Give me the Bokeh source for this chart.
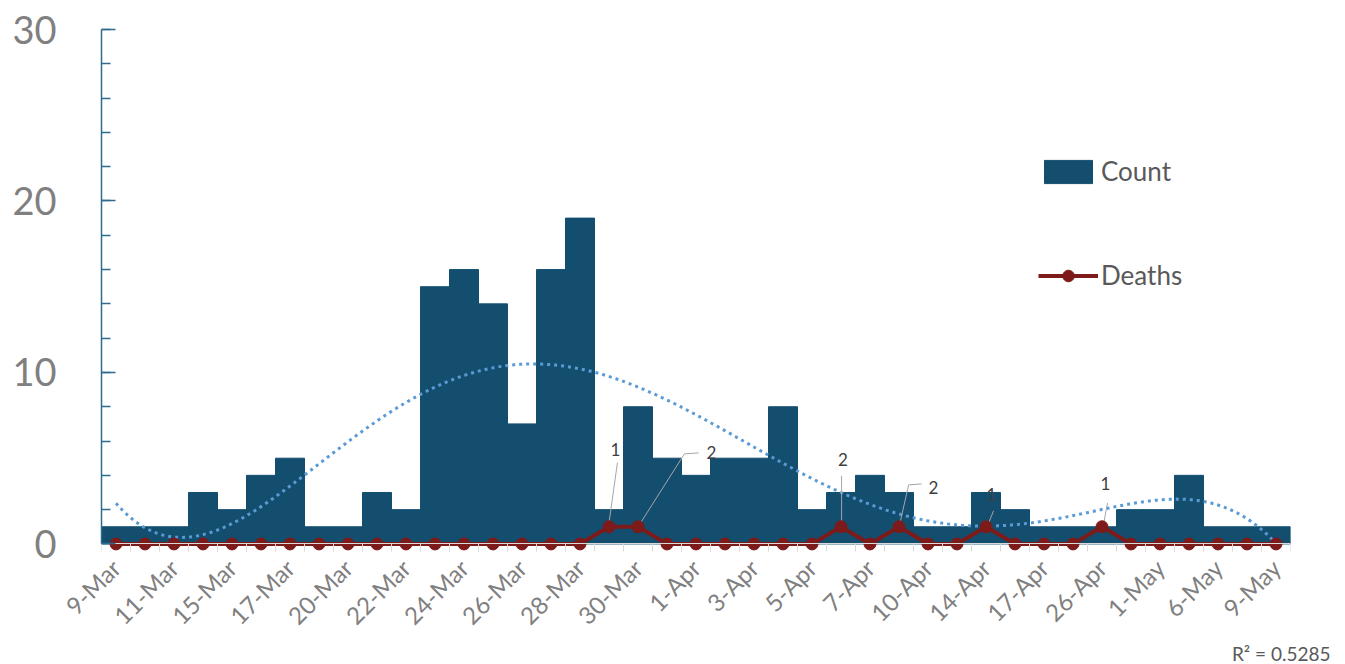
import numpy as np
from bokeh.plotting import figure
from bokeh.models import Range1d, FixedTicker, Legend, LegendItem, LinearAxis, Title
from bokeh.core.properties import value
from bokeh.embed import file_html
from bokeh.resources import INLINE

# ---- data ----
dates = ["9-Mar", "10-Mar", "11-Mar", "13-Mar", "15-Mar", "16-Mar", "17-Mar", "18-Mar",
         "20-Mar", "21-Mar", "22-Mar", "23-Mar", "24-Mar", "25-Mar", "26-Mar", "27-Mar",
         "28-Mar", "29-Mar", "30-Mar", "31-Mar", "1-Apr", "2-Apr", "3-Apr", "4-Apr",
         "5-Apr", "6-Apr", "7-Apr", "8-Apr", "10-Apr", "12-Apr", "14-Apr", "15-Apr",
         "17-Apr", "21-Apr", "26-Apr", "28-Apr", "1-May", "4-May", "6-May", "7-May", "9-May"]
counts = [1, 1, 1, 3, 2, 4, 5, 1, 1, 3, 2, 15, 16, 14, 7, 16, 19,
          2, 8, 5, 4, 5, 5, 8, 2, 3, 4, 3, 1, 1, 3, 2, 1, 1, 1, 2, 2, 4, 1, 1, 1]
deaths = [0] * 17 + [1, 1, 0, 0, 0, 0, 0, 0, 1, 0, 1, 0, 0, 1, 0, 0, 0, 1, 0, 0, 0, 0, 0, 0]
death_label_idx = [17, 18, 25, 27, 30, 34]
death_label_text = ["1", "2", "2", "2", "1", "1"]
y_ticks = [0, 10, 20, 30]
label_dates = dates[::2]
r2_text = "R² = 0.5285"
trend_degree = 5

# ---- layout of data labels (offsets from the point, in data units) ----
label_off = [(0.22, 4.49), (2.53, 4.31), (0.07, 3.9), (1.19, 2.27), (0.19, 1.86), (0.12, 2.5)]
leader_off = [
    [(0.0, 0.23), (0.29, 3.73)],
    [(0.09, 0.23), (1.6, 4.25), (2.09, 4.31)],
    [(0.02, 0.23), (0.02, 2.97)],
    [(0.02, 0.11), (0.33, 2.44), (0.78, 2.5)],
    [(0.05, 0.05), (0.26, 0.93)],
    [(0.05, 0.11), (0.19, 1.39)],
]

BAR = "#134E6F"
RED = "#7D1A1A"
TREND = "#5B9BD5"
AXIS = "#2E6B8E"
GRAY = "#808080"

idx = list(range(len(dates)))

p = figure(width=1345, height=664, output_backend="svg", toolbar_location=None,
           x_range=Range1d(-0.5, 40.5), y_range=Range1d(-0.5, 30),
           min_border_left=101, min_border_right=55, min_border_top=29, min_border_bottom=112)
p.xgrid.visible = False
p.ygrid.visible = False
p.outline_line_color = None
p.background_fill_color = "white"

# y axis
ya = p.yaxis[0]
ya.ticker = FixedTicker(ticks=y_ticks, minor_ticks=list(range(0, 31, 2)))
ya.bounds = (0, 30)
ya.axis_line_color = AXIS
ya.axis_line_width = 1.5
ya.major_tick_line_color = AXIS
ya.minor_tick_line_color = AXIS
ya.major_tick_line_width = 1.5
ya.minor_tick_line_width = 1.5
ya.major_tick_in = 14
ya.major_tick_out = 0
ya.minor_tick_in = 9
ya.minor_tick_out = 0
ya.major_label_text_font = "Lato"
ya.major_label_text_font_size = "38px"
ya.major_label_text_color = GRAY
ya.major_label_standoff = 45

# x axis: category boundary ticks at value 0
xa = p.xaxis[0]
xa.fixed_location = 0
xa.ticker = FixedTicker(ticks=[], minor_ticks=[i - 0.5 for i in range(len(dates) + 1)])
xa.major_label_standoff = 0
xa.major_tick_in = 0
xa.major_tick_out = 0
xa.minor_tick_in = 0
xa.minor_tick_out = 8
xa.minor_tick_line_color = "#D9D9D9"
xa.axis_line_color = "#D9D9D9"

# x axis: date labels
xl = LinearAxis(ticker=FixedTicker(ticks=idx[::2]),
                major_label_overrides={i: d for i, d in zip(idx[::2], label_dates)})
xl.axis_line_color = None
xl.major_tick_line_color = None
xl.minor_tick_line_color = None
xl.major_tick_in = 0
xl.major_tick_out = 0
xl.major_label_orientation = np.pi / 4
xl.major_label_text_font = "Lato"
xl.major_label_text_font_size = "24px"
xl.major_label_text_color = GRAY
xl.major_label_standoff = 11
p.add_layout(xl, "below")

# bars
bars = p.vbar(x=idx, top=counts, width=1.0, fill_color=BAR, line_color=BAR, line_width=1)

# polynomial trendline fitted to the counts
coef = np.polyfit(idx, counts, trend_degree)
xs = np.linspace(0, len(dates) - 1, 400)
p.line(xs, np.polyval(coef, xs), line_color=TREND, line_width=3, line_dash="3 4")

# leader lines
lx = [[death_label_idx[k] + ox for ox, oy in leader_off[k]] for k in range(len(death_label_idx))]
ly = [[deaths[death_label_idx[k]] + oy for ox, oy in leader_off[k]] for k in range(len(death_label_idx))]
p.multi_line(lx, ly, line_color="#A6A6A6", line_width=1)

dline = p.line(idx, deaths, line_color=RED, line_width=4)
ddots = p.scatter(idx, deaths, size=12, fill_color=RED, line_color=RED)

tx = [death_label_idx[k] + label_off[k][0] for k in range(len(death_label_idx))]
ty = [deaths[death_label_idx[k]] + label_off[k][1] for k in range(len(death_label_idx))]
p.text(tx, ty, text=death_label_text, text_font=value("Lato"), text_font_size="17px",
       text_color="#404040", text_align="center", text_baseline="middle")

legend = Legend(items=[LegendItem(label="Count", renderers=[bars]),
                       LegendItem(label="Deaths", renderers=[dline, ddots])],
                location=(937, 261), glyph_width=60, glyph_height=29, label_height=24,
                spacing=72, padding=0, margin=0, background_fill_alpha=0,
                border_line_color=None, label_text_font="Lato",
                label_text_font_size="26px", label_text_color="#595959", label_standoff=3)
p.add_layout(legend)

p.add_layout(Title(text=r2_text, align="right", offset=-40, standoff=-8, text_font="Lato",
                   text_font_size="19px", text_color="#595959", text_font_style="normal"),
             "below")

open("out.html", "w").write(file_html(p, INLINE))
